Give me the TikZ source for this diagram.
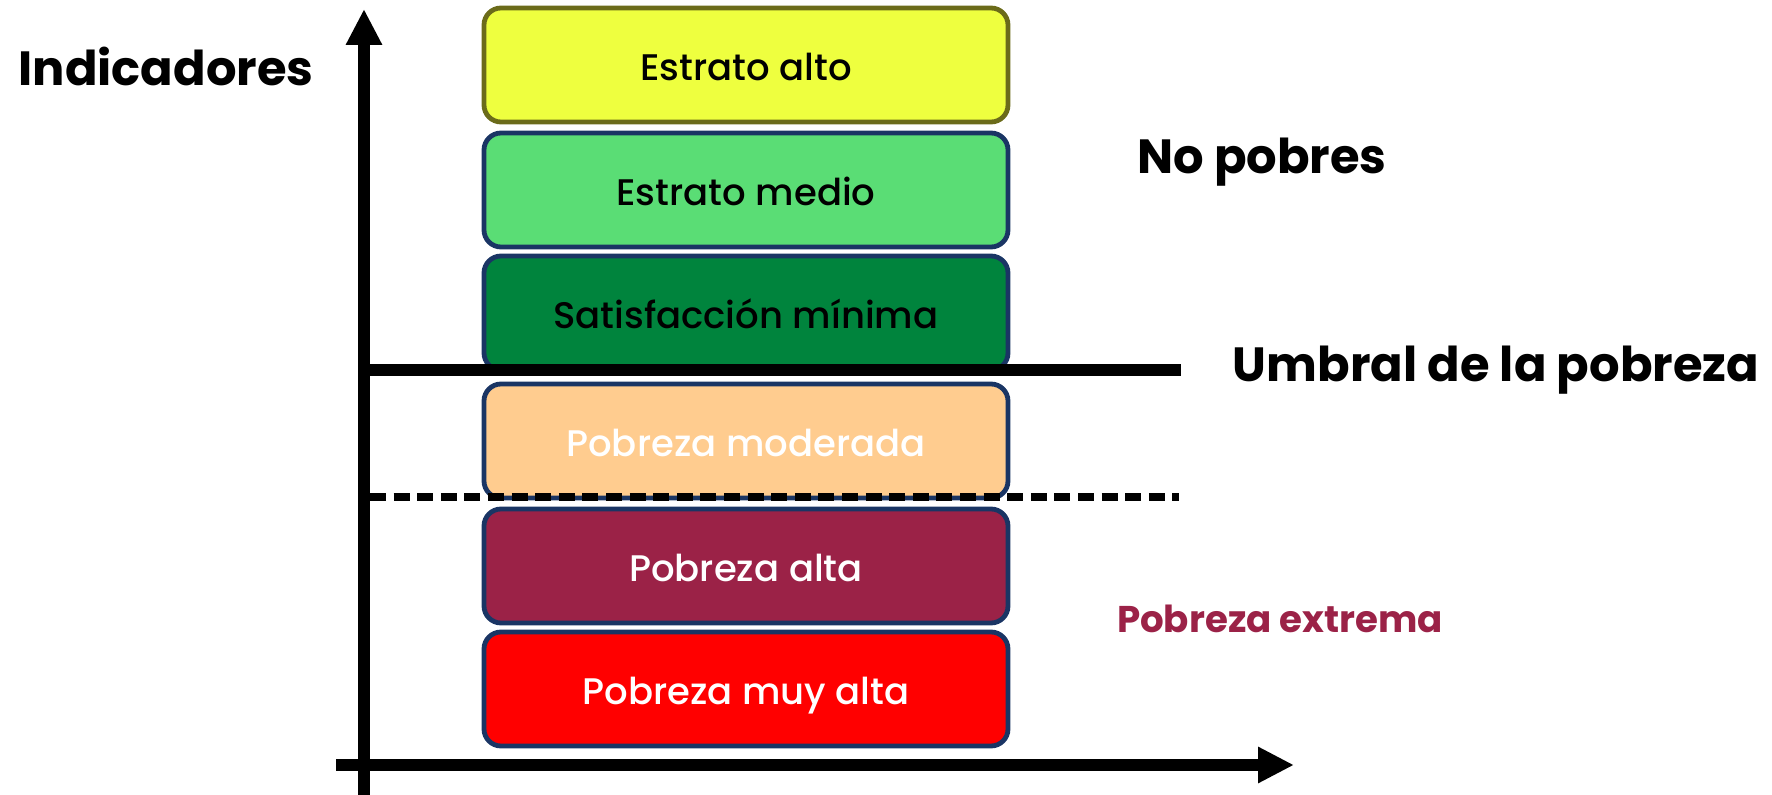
\documentclass[tikz,border=0pt]{standalone}
\usepackage{fontspec}
\setmainfont{Poppins}
\newfontfamily\boxfont{Poppins Medium}
\usepackage{tikz}
\usetikzlibrary{arrows.meta}
\definecolor{altoFill}{HTML}{EEFF3F}
\definecolor{altoLine}{HTML}{6B6B1A}
\definecolor{medioFill}{HTML}{5ADD75}
\definecolor{minFill}{HTML}{00843D}
\definecolor{modFill}{HTML}{FFCC8F}
\definecolor{pobAltaFill}{HTML}{9B2247}
\definecolor{muyAltaFill}{HTML}{FF0000}
\definecolor{boxLine}{HTML}{1A3564}
\newcommand{\tikzLevelNode}[4]{
  \node[level,#3] (#1) at (746,#2) {#4};
}

\begin{document}
\begin{tikzpicture}[x=0.5pt, y=-0.5pt,
  level/.style={draw=boxLine,line width=2.4pt,rounded corners=8.5pt,minimum width=262pt,minimum height=57pt,text height=15.6pt,text depth=0pt,font=\boxfont\fontsize{18.5}{22}\selectfont},
  axis/.style={line width=5.6pt,-{Triangle[width=17pt,length=18pt]}},
  title/.style={font=\fontsize{24}{28}\selectfont\bfseries}]
  \useasboundingbox (0,0) rectangle (1772,795);
  % levels
  \tikzLevelNode{alto}{65}{fill=altoFill,draw=altoLine,text=black}{Estrato alto}
  \tikzLevelNode{medio}{190}{fill=medioFill,text=black}{Estrato medio}
  \tikzLevelNode{minima}{313}{fill=minFill,text=black}{Satisfacción mínima}
  \tikzLevelNode{moderada}{441}{fill=modFill,text=white}{Pobreza moderada}
  \tikzLevelNode{alta}{566}{fill=pobAltaFill,text=white}{Pobreza alta}
  \tikzLevelNode{muyalta}{689}{fill=muyAltaFill,text=white}{Pobreza muy alta}
  % axes
  \coordinate (ybot) at (364,795);
  \coordinate (ytop) at (364,9);
  \coordinate (xleft) at (336,765);
  \coordinate (xright) at (1294,765);
  \draw[axis] (ybot) -- (ytop);
  \draw[axis] (xleft) -- (xright);
  % thresholds
  \coordinate (u1) at (364,370);
  \coordinate (u2) at (1181,370);
  \draw[line width=5.8pt] (u1) -- (u2);
  \coordinate (e1) at (370,497);
  \coordinate (e2) at (1179,497);
  \draw[line width=3.6pt,dash pattern=on 8pt off 3.8pt] (e1) -- (e2);
  % labels
  \node[title] (ind) at (166,66) {Indicadores};
  \node[title] (nopob) at (1262,162) {No pobres};
  \node[title] (umbral) at (1496,370) {Umbral de la pobreza};
  \node[font=\fontsize{18.6}{22}\selectfont\bfseries,text=pobAltaFill] (extrema) at (1280,619) {Pobreza extrema};
\end{tikzpicture}
\end{document}
